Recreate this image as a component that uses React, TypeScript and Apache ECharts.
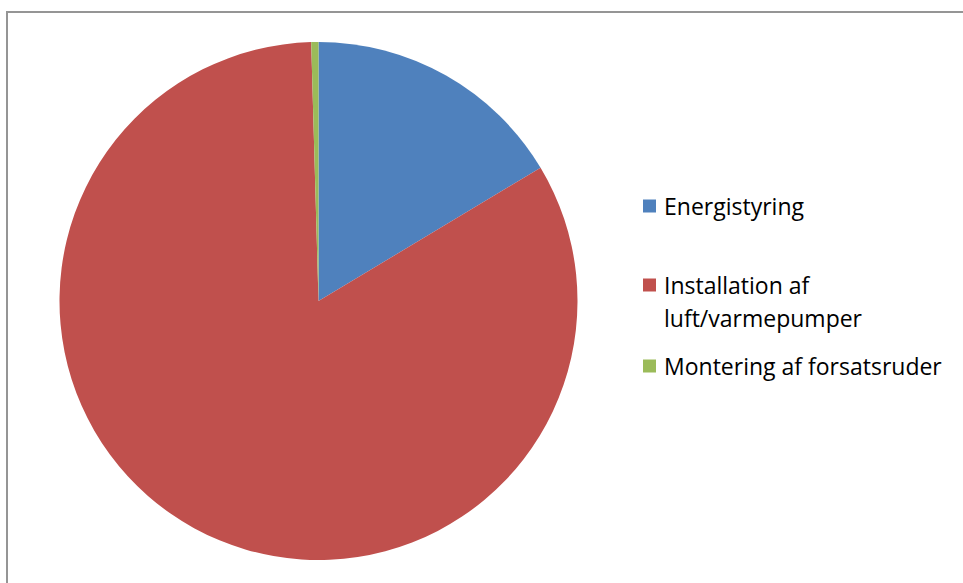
import React, { useEffect, useRef } from "react";
import * as echarts from "echarts";

const categories = ["Energistyring", "Installation af luft/varmepumper", "Montering af forsatsruder"];
const legendLines = [["Energistyring"], ["Installation af", "luft/varmepumper"], ["Montering af forsatsruder"]];
const values = [16.4, 83.15, 0.45];
const colors = ["#4F81BD", "#C0504D", "#9BBB59"];

export default function App() {
  const ref = useRef<HTMLDivElement>(null);
  useEffect(() => {
    if (!ref.current) return;
    const chart = echarts.init(ref.current, undefined, { renderer: "svg" });
    const legendTops = [206, 285, 366];
    const lineH = 33;
    const graphics: any[] = [
      {
        type: "rect",
        shape: { x: 7, y: 12, width: 1000, height: 1000 },
        style: { fill: "none", stroke: "#959595", lineWidth: 2 },
        silent: true,
      },
    ];
    legendLines.forEach((lines, i) => {
      graphics.push({
        type: "rect",
        shape: { x: 643, y: legendTops[i] - 6.5, width: 13, height: 13 },
        style: { fill: colors[i] },
      });
      lines.forEach((ln, j) => {
        graphics.push({
          type: "text",
          x: 664,
          y: legendTops[i] + j * lineH,
          style: {
            text: ln,
            fill: "#000000",
            font: "23px 'Open Sans'",
            verticalAlign: "middle",
          },
        });
      });
    });
    chart.setOption({
      animation: false,
      color: colors,
      graphic: graphics,
      series: [
        {
          type: "pie",
          center: [318.5, 301],
          radius: 259,
          startAngle: 90,
          clockwise: true,
          label: { show: false },
          labelLine: { show: false },
          emphasis: { disabled: true },
          itemStyle: { borderWidth: 0 },
          data: categories.map((c, i) => ({ name: c, value: values[i] })),
        },
      ],
    });
    return () => chart.dispose();
  }, []);
  return (
    <div
      ref={ref}
      style={{ position: "absolute", left: 0, top: 0, width: 963, height: 583, background: "#ffffff" }}
    />
  );
}
